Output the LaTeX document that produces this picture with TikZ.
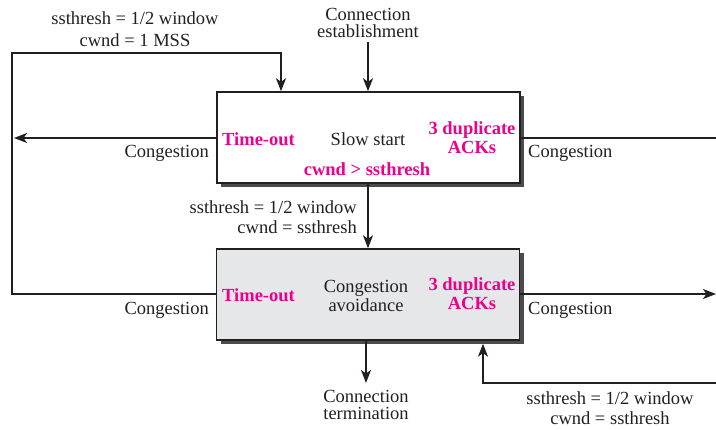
\documentclass[tikz,border=0pt]{standalone}
\usepackage{fontspec}
\setmainfont{Liberation Serif}
\usetikzlibrary{arrows.meta,shadows}
\definecolor{ink}{RGB}{35,31,32}
\definecolor{mag}{RGB}{236,0,140}
\definecolor{boxgray}{RGB}{230,231,232}
\definecolor{shadowc}{RGB}{75,75,77}
\begin{document}
\begin{tikzpicture}[x=1pt,y=-1pt,
  font=\fontsize{18.5}{19}\selectfont, text=ink,
  line/.style={draw=ink, line width=1.8pt},
  arr/.style={line, -{Stealth[length=13pt,width=10pt,inset=3.5pt]}},
  statebox/.style={draw=ink, line width=1.4pt, fill=white, minimum width=303pt, minimum height=91pt, inner sep=0pt,
    drop shadow={shadow xshift=4pt, shadow yshift=-4pt, opacity=1, fill=shadowc}},
  hl/.style={text=mag, font=\fontsize{18.5}{19}\selectfont\bfseries, inner sep=0pt},
  lbl/.style={inner sep=0pt}]
\useasboundingbox (0,0) rectangle (716,430);

% boxes
\node[statebox] (ss) at (368.5,137.5) {};
\node[statebox, fill=boxgray] (ca) at (368,294.5) {};

% texts inside box 1
\node[hl, anchor=west] (to1) at (222,139) {Time-out};
\node[lbl] (sst) at (368,139) {Slow start};
\node[hl, align=center] (dup1) at (472,138) {3 duplicate\\ACKs};
\node[hl] (cond) at (367,169) {cwnd > ssthresh};

% texts inside box 2
\node[hl, anchor=west] (to2) at (222,295) {Time-out};
\node[lbl, align=center] (cat) at (366,296) {Congestion\\avoidance};
\node[hl, align=center] (dup2) at (472,294) {3 duplicate\\ACKs};

% outside labels
\node[lbl, align=center, font=\fontsize{18.5}{17}\selectfont] (est) at (368,23) {Connection\\establishment};
\node[lbl, align=center, font=\fontsize{18.5}{17}\selectfont] (term) at (366,405) {Connection\\termination};
\node[lbl, align=center, font=\fontsize{18.5}{22}\selectfont] (tlab) at (135,29) {ssthresh = 1/2 window\\cwnd = 1 MSS};
\node[lbl, align=right, anchor=east, font=\fontsize{18.5}{20}\selectfont] (mlab) at (357,217) {ssthresh = 1/2 window\\cwnd = ssthresh};
\node[lbl, align=center, font=\fontsize{18.5}{20}\selectfont] (blab) at (610,408) {ssthresh = 1/2 window\\cwnd = ssthresh};
\node[lbl, anchor=east] (c1) at (209,153) {Congestion};
\node[lbl, anchor=west] (c2) at (528,153) {Congestion};
\node[lbl, anchor=east] (c3) at (209,310) {Congestion};
\node[lbl, anchor=west] (c4) at (528,310) {Congestion};

% coordinates
\coordinate (tl) at (12,53);
\coordinate (bl) at (12,294);
\coordinate (tt) at (281,53);
\coordinate (r1) at (716,138);
\coordinate (r2) at (716,294);
\coordinate (br) at (716,383);
\coordinate (bx) at (483,383);
\coordinate (ea) at (368,42);
\coordinate (tx) at (366,383);

% connectors
\draw[arr] (ea) -- (ea |- ss.north);
\draw[arr] (ss.south -| ea) -- (ea |- ca.north);
\draw[arr] (tx |- ca.south) -- (tx);
\draw[arr] (ca.west |- bl) -- (bl) -- (tl) -- (tt) -- (tt |- ss.north);
\draw[arr] (ss.west |- 0,138) -- (14,138);
\draw[line] (ss.east |- r1) -- (r1);
\draw[arr] (ca.east |- r2) -- (r2);
\draw[arr] (br) -- (bx) -- ([yshift=-3pt]bx |- ca.south);
\end{tikzpicture}
\end{document}
